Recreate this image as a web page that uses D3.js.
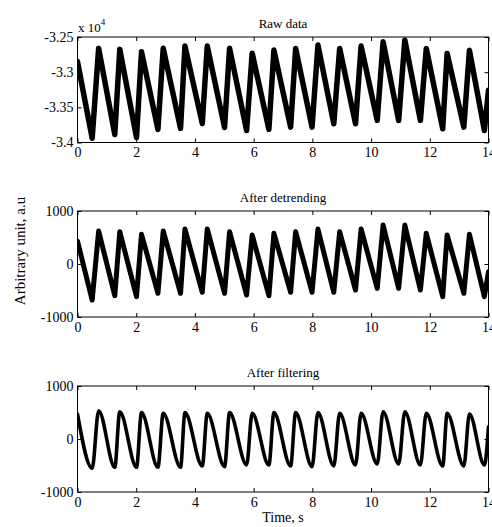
<!DOCTYPE html>
<html>
<head>
<meta charset="utf-8">
<script src="https://cdn.jsdelivr.net/npm/d3@7/dist/d3.min.js"></script>
<style>
  html, body { margin: 0; padding: 0; background: #fff; }
  svg { display: block; }
  text { font-family: "Liberation Serif", "Times New Roman", serif; fill: #000; }
</style>
</head>
<body>
<svg id="chart" width="492" height="527"></svg>
<script>
// ---- Data (key points: start, then trough/peak pairs, then end) ----
const keyTimes = [0,
  0.50, 0.72, 1.27, 1.44, 2.01, 2.18, 2.74, 2.92, 3.51, 3.66, 4.25, 4.42,
  5.01, 5.18, 5.76, 5.95, 6.52, 6.69, 7.26, 7.43, 7.99, 8.19, 8.73, 8.93,
  9.47, 9.66, 10.21, 10.41, 10.94, 11.15, 11.68, 11.88, 12.44, 12.59,
  13.16, 13.35, 13.86, 14.0];

const rawValues = [-32850,
  -33940, -32660, -33886, -32676, -33929, -32710, -33814, -32660, -33800, -32629,
  -33730, -32629, -33786, -32660, -33829, -32730, -33814, -32686, -33781, -32662,
  -33781, -32614, -33733, -32662, -33733, -32629, -33686, -32567, -33686, -32543,
  -33686, -32662, -33805, -32733, -33781, -32690, -33829, -33257];

const detrendedValues = [430,
  -680, 623, -598, 610, -617, 560, -553, 623, -553, 660,
  -534, 660, -553, 610, -585, 547, -598, 579, -534, 610,
  -534, 660, -534, 610, -491, 660, -459, 736, -459, 736,
  -491, 579, -617, 547, -553, 560, -617, -145];

const filteredValues = [470,
  -553, 534, -534, 515, -534, 497, -534, 485, -534, 497,
  -509, 485, -522, 497, -491, 485, -491, 497, -509, 497,
  -522, 497, -509, 485, -491, 485, -472, 515, -472, 515,
  -491, 485, -509, 485, -509, 472, -491, 232];

const xTicks = [0, 2, 4, 6, 8, 10, 12, 14];
const rawYTicks = [-34000, -33500, -33000, -32500];
const rawYTickLabels = ["-3.4", "-3.35", "-3.3", "-3.25"];
const unitYTicks = [-1000, 0, 1000];
const unitYTickLabels = ["-1000", "0", "1000"];
const panelTitles = ["Raw data", "After detrending", "After filtering"];
const yAxisLabel = "Arbitrary unit, a.u";
const xAxisLabel = "Time, s";

// ---- Layout ----
const svg = d3.select("#chart");
const left = 77.5, right = 488.5;
const panels = [
  { top: 37, bottom: 142.5, values: rawValues, domain: [-34000, -32500],
    ticks: rawYTicks, labels: rawYTickLabels, title: panelTitles[0],
    width: 5.5, curve: d3.curveLinear },
  { top: 211, bottom: 317, values: detrendedValues, domain: [-1000, 1000],
    ticks: unitYTicks, labels: unitYTickLabels, title: panelTitles[1],
    width: 5, curve: d3.curveLinear },
  { top: 386, bottom: 492, values: filteredValues, domain: [-1000, 1000],
    ticks: unitYTicks, labels: unitYTickLabels, title: panelTitles[2],
    width: 3.6, curve: d3.curveMonotoneX }
];

const x = d3.scaleLinear().domain([0, 14]).range([left, right]);

panels.forEach((p, i) => {
  const y = d3.scaleLinear().domain(p.domain).range([p.bottom, p.top]);
  const g = svg.append("g");

  // clip
  const clipId = "clip" + i;
  svg.append("clipPath").attr("id", clipId)
    .append("rect").attr("x", left).attr("y", p.top)
    .attr("width", right - left).attr("height", p.bottom - p.top);

  // data line
  const pts = keyTimes.map((t, k) => [t, p.values[k]]);
  const line = d3.line().x(d => x(d[0])).y(d => y(d[1])).curve(p.curve);
  g.append("path")
    .attr("clip-path", `url(#${clipId})`)
    .attr("d", line(pts))
    .attr("fill", "none")
    .attr("stroke", "#000")
    .attr("stroke-width", p.width)
    .attr("stroke-linejoin", "round")
    .attr("stroke-linecap", "round");

  // axes
  const fmtY = (d) => p.labels[p.ticks.indexOf(d)];
  const bottomAx = d3.axisBottom(x).tickValues(xTicks).tickSizeInner(-4).tickSizeOuter(0).tickPadding(5);
  const topAx = d3.axisTop(x).tickValues(xTicks).tickSizeInner(-4).tickSizeOuter(0).tickFormat("");
  const leftAx = d3.axisLeft(y).tickValues(p.ticks).tickSizeInner(-4).tickSizeOuter(0).tickPadding(4).tickFormat(fmtY);
  const rightAx = d3.axisRight(y).tickValues(p.ticks).tickSizeInner(-4).tickSizeOuter(0).tickFormat("");

  const styleAxis = (sel) => {
    sel.select(".domain").remove();
    sel.selectAll("line").attr("stroke", "#000");
    sel.selectAll("text").attr("font-size", 14)
      .attr("font-family", "Liberation Serif, Times New Roman, serif").attr("fill", "#000");
  };
  g.append("g").attr("transform", `translate(0,${p.bottom})`).call(bottomAx).call(styleAxis);
  g.append("g").attr("transform", `translate(0,${p.top})`).call(topAx).call(styleAxis);
  g.append("g").attr("transform", `translate(${left},0)`).call(leftAx).call(styleAxis);
  g.append("g").attr("transform", `translate(${right},0)`).call(rightAx).call(styleAxis);

  // box
  g.append("rect").attr("x", left).attr("y", p.top)
    .attr("width", right - left).attr("height", p.bottom - p.top)
    .attr("fill", "none").attr("stroke", "#000").attr("stroke-width", 1);

  // title
  g.append("text").attr("x", (left + right) / 2).attr("y", p.top - 9.5)
    .attr("text-anchor", "middle").attr("font-size", 13).text(p.title);
});

// exponent label for raw data
const expText = svg.append("text").attr("x", 78).attr("y", 32).attr("font-size", 13);
expText.append("tspan").text("x 10");
expText.append("tspan").attr("font-size", 9).attr("dy", -7).text("4");

// y axis label
svg.append("text")
  .attr("transform", "translate(25,251) rotate(-90)")
  .attr("text-anchor", "middle").attr("font-size", 15).text(yAxisLabel);

// x axis label
svg.append("text").attr("x", (left + right) / 2).attr("y", 522)
  .attr("text-anchor", "middle").attr("font-size", 14).text(xAxisLabel);
</script>
</body>
</html>
